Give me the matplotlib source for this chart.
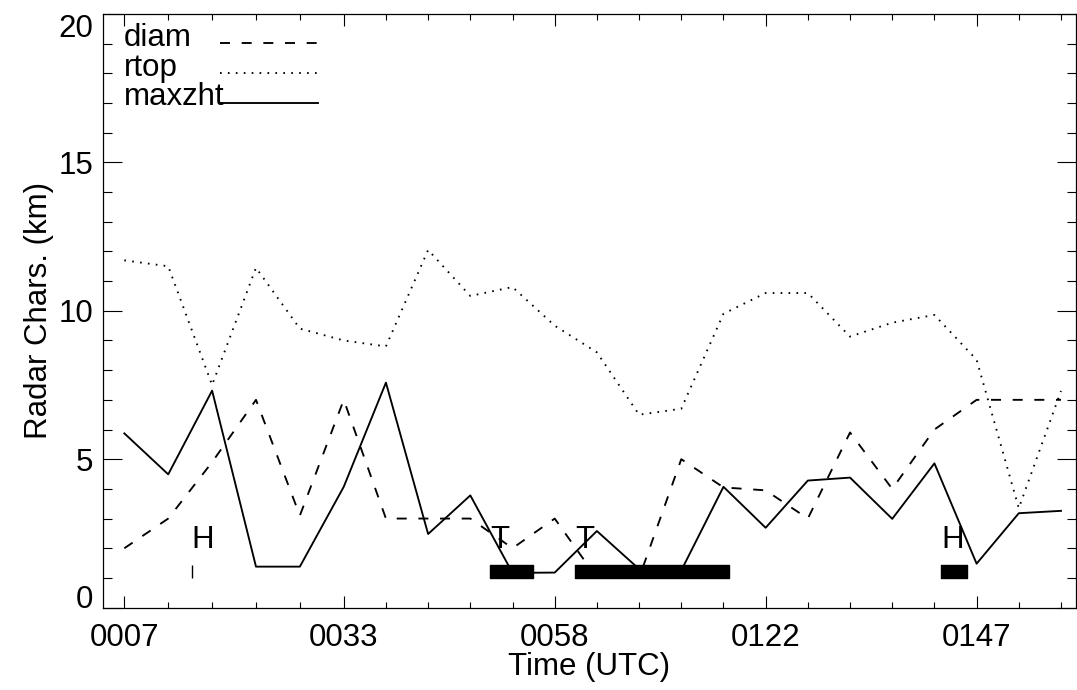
import matplotlib
matplotlib.use("Agg")
import matplotlib.pyplot as plt

plt.rcParams['font.family'] = ['Liberation Sans', 'DejaVu Sans']
plt.rcParams['lines.scale_dashes'] = False

# ---- data ----
times = [7.0, 12.2, 17.4, 22.6, 27.8, 33.0, 38.0, 43.0, 48.0, 53.0, 58.0,
         63.0, 68.0, 73.0, 78.0, 83.0, 88.0, 93.0, 98.0, 103.0, 108.0, 113.0, 118.0]
diam = [2.0, 3.0, 4.9, 7.0, 3.1, 7.0, 3.0, 3.0, 3.0, 2.0, 3.0,
        1.0, 1.0, 5.0, 4.05, 3.95, 3.0, 5.9, 4.0, 6.0, 7.0, 7.0, 7.0]
rtop = [11.7, 11.5, 7.5, 11.45, 9.4, 9.0, 8.8, 12.05, 10.5, 10.8, 9.5,
        8.6, 6.5, 6.7, 9.9, 10.6, 10.6, 9.13, 9.6, 9.86, 8.35, 3.35, 7.3]
maxzht = [5.87, 4.49, 7.31, 1.38, 1.38, 4.07, 7.58, 2.48, 3.78, 1.17, 1.18,
          2.58, 1.3, 1.25, 4.07, 2.69, 4.28, 4.38, 2.99, 4.86, 1.48, 3.18, 3.26]

tick_idx = [0, 5, 10, 15, 20]
tick_labels = ['0007', '0033', '0058', '0122', '0147']

event_labels = ['H', 'T', 'T', 'H']
event_start = [15.0, 50.33, 60.41, 103.78]
event_end = [15.0, 55.4, 78.62, 106.86]
event_ylow, event_yhigh = 1.0, 1.45
event_label_y = 2.0

series_names = ['diam', 'rtop', 'maxzht']

# ---- figure ----
fig = plt.figure(figsize=(10.77, 6.90), dpi=100)
ax = fig.add_axes([103/1077, (690-607.6)/690, (1075.5-103)/1077, (607.6-14)/690])

dash_style = (0, (7.2, 8.4))
dot_style = (0, (1.2, 4.5))
lw = 1.35

ax.plot(times, diam, color='black', lw=lw, linestyle=dash_style)
ax.plot(times, rtop, color='black', lw=lw, linestyle=dot_style)
ax.plot(times, maxzht, color='black', lw=lw, linestyle='-')

fs = 22.5
for lab, s, e in zip(event_labels, event_start, event_end):
    ax.broken_barh([(s, e - s)], (event_ylow, event_yhigh - event_ylow),
                   facecolor='black', edgecolor='black', linewidth=1.0, zorder=5)
    ax.text(s, event_label_y, lab, fontsize=fs, ha='left', va='baseline', zorder=6)

ax.set_xlim(4.47, 119.72)
ax.set_ylim(0, 20)

ax.set_xticks([times[i] for i in tick_idx])
ax.set_xticklabels(tick_labels)
ax.set_xticks(times, minor=True)
ax.set_yticks([0, 5, 10, 15, 20])
ax.set_yticklabels(['0', '5', '10', '15', '20'])
ax.set_yticks(range(0, 21), minor=True)

ax.tick_params(axis='both', which='both', direction='in', top=True, right=True,
               width=0.8, labelsize=fs)
ax.tick_params(axis='x', which='major', length=8.6, pad=11)
ax.tick_params(axis='x', which='minor', length=4.3)
ax.tick_params(axis='y', which='major', length=13.7, pad=7.2)
ax.tick_params(axis='y', which='minor', length=6.7)
for sp in ax.spines.values():
    sp.set_linewidth(0.9)

ylabs = ax.get_yticklabels()
ylabs[0].set_verticalalignment('baseline')
ylabs[-1].set_verticalalignment('top')

ax.set_xlabel('Time (UTC)', fontsize=fs)
ax.set_ylabel('Radar Chars. (km)', fontsize=fs)
ax.xaxis.set_label_coords(0.5, -0.074)
ax.yaxis.set_label_coords(-0.05, 0.5)

# legend (drawn like the original: name followed by a line sample)
W = 1075.5 - 103
H = 607.6 - 14
styles = [dash_style, dot_style, '-']
text_base_px = [46, 76, 105]
line_px = [43, 73, 102.5]
for name, st, tb, lp in zip(series_names, styles, text_base_px, line_px):
    ax.text((124 - 103) / W, (607.6 - tb) / H, name, transform=ax.transAxes,
            fontsize=fs, ha='left', va='baseline')
    yf = (607.6 - lp) / H
    ax.plot([(220 - 103) / W, (318 - 103) / W], [yf, yf], transform=ax.transAxes,
            color='black', lw=lw, linestyle=st)

fig.savefig('out.png', dpi=100)
